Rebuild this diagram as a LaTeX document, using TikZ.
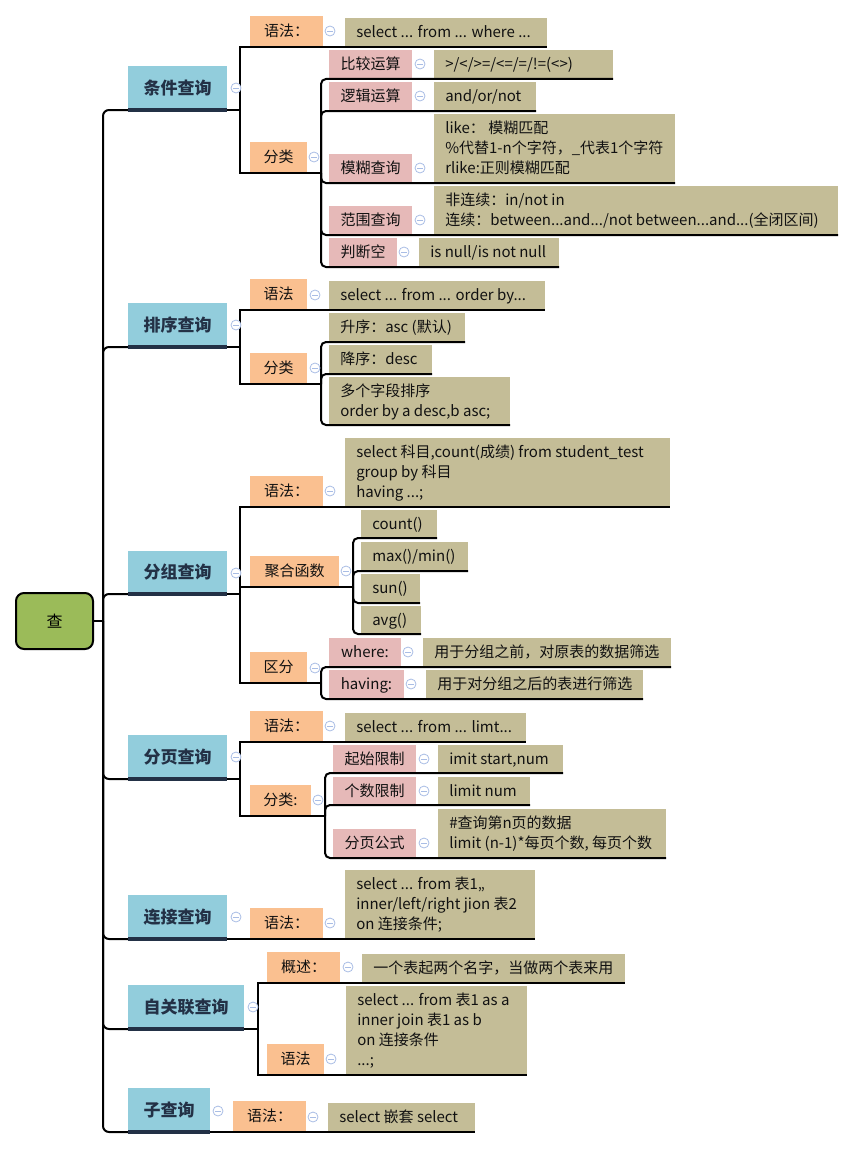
\documentclass[tikz,border=0pt]{standalone}
\usepackage{fontspec}
\setmainfont{Noto Sans CJK SC}
\usetikzlibrary{calc}
\definecolor{cRoot}{HTML}{9BBB59}
\definecolor{cMain}{HTML}{92CDDC}
\definecolor{cNavy}{HTML}{233146}
\definecolor{cOr}{HTML}{FAC090}
\definecolor{cPk}{HTML}{E6B9B8}
\definecolor{cTan}{HTML}{C4BD97}
\definecolor{cColl}{HTML}{A9BDE5}
\definecolor{cTxt}{HTML}{111111}
\tikzset{
  ln/.style={line width=1.5pt, draw=black},
  txt/.style={inner sep=0pt, font=\fontsize{11.25pt}{15pt}\selectfont, text=cTxt},
  mtxt/.style={inner sep=0pt, font=\fontsize{12.75pt}{15pt}\selectfont\bfseries, text=cNavy},
  orbox/.style={fill=cOr},
  pkbox/.style={fill=cPk},
  tnbox/.style={fill=cTan},
  mainbox/.style={fill=cMain},
  bar/.style={line width=3pt, draw=cNavy},
  rootbox/.style={draw=black, line width=1.5pt, fill=cRoot, rounded corners=6pt,
    minimum width=57.75pt, minimum height=42pt, inner sep=0pt,
    font=\fontsize{12pt}{14pt}\selectfont},
  coll/.style={circle, draw=cColl, fill=white, line width=0.6pt, minimum size=7.5pt, inner sep=0pt,
    path picture={\draw[cColl, line width=0.6pt] ([xshift=-2.2pt]path picture bounding box.center) -- ([xshift=2.2pt]path picture bounding box.center);}},
}
\newcommand\mkbox[6]{%
  \pgfmathsetmacro\mkW{(#5-#3)*0.75}%
  \pgfmathsetmacro\mkH{(#6-#4)*0.75}%
  \node[#1, minimum width=\mkW pt, minimum height=\mkH pt, anchor=south west, inner sep=0pt, outer sep=0pt] (#2) at (#3,#6) {};}
\newcommand\lab[7]{%
  \mkbox{#1}{#2}{#3}{#4}{#5}{#6}%
  \node[txt, anchor=base] (#2-t) at ([yshift=-4.1pt]#2.center) {#7};}
\newcommand\val[7]{%
  \mkbox{tnbox}{#1}{#2}{#3}{#4}{#5}%
  \pgfmathsetmacro\mkY{-4.1-(#6-1)*7.5}%
  \node[txt, anchor=base west, align=left] (#1-t) at ([xshift=8.25pt,yshift=\mkY pt]#1.west) {#7};}
\newcommand\mainb[6]{%
  \mkbox{mainbox}{#1}{#2}{#3}{#4}{#5}%
  \node[mtxt, anchor=base] (#1-t) at ([yshift=-4.6pt]#1.center) {#6};}
\newcommand\col[3]{\node[coll] (#1) at (#2,#3) {};}
\begin{document}
\begin{tikzpicture}[x=0.75pt,y=-0.75pt]
\useasboundingbox (0,0) rectangle (855,1149);
\node[rootbox] (root) at (54.5,621) {查};
% main topics
\mainb{M1}{128}{66}{227}{110}{条件查询}
\mainb{M2}{128}{303}{227}{347}{排序查询}
\mainb{M3}{128}{551}{227}{594}{分组查询}
\mainb{M4}{128}{735}{227}{779}{分页查询}
\mainb{M5}{128}{895}{227}{939}{连接查询}
\mainb{M6}{128}{985}{244}{1029}{自关联查询}
\mainb{M7}{128}{1088}{210}{1132}{子查询}
% section 1
\lab{orbox}{A1}{250}{16}{323}{47}{语法：}
\val{A1v}{345}{18}{547}{47}{1}{select ... from ... where ...}
\lab{orbox}{A2}{250}{142}{307}{173}{分类}
\lab{pkbox}{A21}{329}{50}{412}{79}{比较运算}
\val{A21v}{434}{50}{613}{79}{1}{>/</>=/<=/=/!=(<>)}
\lab{pkbox}{A22}{329}{82}{412}{111}{逻辑运算}
\val{A22v}{434}{82}{536}{111}{1}{and/or/not}
\lab{pkbox}{A23}{329}{154}{412}{183}{模糊查询}
\val{A23v}{434}{114}{675}{183}{3}{like： 模糊匹配\\\%代替1-n个字符，\_代表1个字符\\rlike:正则模糊匹配}
\lab{pkbox}{A24}{329}{206}{412}{235}{范围查询}
\val{A24v}{434}{186}{838}{235}{2}{非连续：in/not in\\连续：between...and.../not between...and...(全闭区间)}
\lab{pkbox}{A25}{329}{238}{397}{267}{判断空}
\val{A25v}{419}{238}{559}{267}{1}{is null/is not null}
% section 2
\lab{orbox}{B1}{250}{279}{307}{310}{语法}
\val{B1v}{329}{281}{545}{310}{1}{select ... from ... order by...}
\lab{orbox}{B2}{250}{353}{307}{384}{分类}
\val{B21}{329}{313}{465}{342}{1}{升序：asc (默认)}
\val{B22}{329}{345}{432}{374}{1}{降序：desc}
\val{B23}{329}{377}{510}{425}{2}{多个字段排序\\order by a desc,b asc;}
% section 3
\lab{orbox}{C1}{250}{476}{323}{507}{语法：}
\val{C1v}{345}{438}{670}{507}{3}{select 科目,count(成绩) from student\_test\\group by 科目\\having ...;}
\lab{orbox}{C2}{250}{556}{339}{587}{聚合函数}
\val{C21}{361}{510}{437}{538}{1}{count()}
\val{C22}{361}{542}{468}{571}{1}{max()/min()}
\val{C23}{361}{574}{420}{603}{1}{sun()}
\val{C24}{361}{606}{421}{634}{1}{avg()}
\lab{orbox}{C3}{250}{652}{307}{683}{区分}
\lab{pkbox}{C31}{329}{638}{401}{667}{where:}
\val{C31v}{423}{638}{671}{667}{1}{用于分组之前，对原表的数据筛选}
\lab{pkbox}{C32}{329}{670}{404}{699}{having:}
\val{C32v}{426}{670}{643}{699}{1}{用于对分组之后的表进行筛选}
% section 4
\lab{orbox}{D1}{250}{711}{323}{742}{语法：}
\val{D1v}{345}{713}{526}{742}{1}{select ... from ... limt...}
\lab{orbox}{D2}{250}{785}{311}{816}{分类:}
\lab{pkbox}{D21}{333}{745}{416}{773}{起始限制}
\val{D21v}{438}{745}{563}{773}{1}{imit start,num}
\lab{pkbox}{D22}{333}{777}{416}{805}{个数限制}
\val{D22v}{438}{777}{530}{805}{1}{limit num}
\lab{pkbox}{D23}{333}{829}{416}{858}{分页公式}
\val{D23v}{438}{809}{666}{858}{2}{\#查询第n页的数据\\limit (n-1)*每页个数, 每页个数}
% section 5
\lab{orbox}{E1}{250}{908}{323}{939}{语法：}
\val{E1v}{345}{870}{535}{939}{3}{select ... from 表1,,\\inner/left/right jion 表2\\on 连接条件;}
% section 6
\lab{orbox}{F1}{267}{952}{340}{983}{概述：}
\val{F1v}{362}{954}{625}{983}{1}{一个表起两个名字，当做两个表来用}
\lab{orbox}{F2}{267}{1044}{324}{1075}{语法}
\val{F2v}{346}{986}{527}{1075}{4}{select ... from 表1 as a\\inner join 表1 as b\\on 连接条件\\...;}
% section 7
\lab{orbox}{G1}{233}{1101}{306}{1132}{语法：}
\val{G1v}{328}{1103}{475}{1132}{1}{select 嵌套 select}
% trunk
\coordinate (tr) at (103,621);
\draw[ln] (root.east) -- (tr);
\foreach \m in {M1,M2,M3,M4,M5,M6,M7} \draw[ln, rounded corners=4.5pt] (tr) |- (\m.south west);
% section 1 connectors
\coordinate (j1) at (240,110);
\coordinate (j1b) at (321,173);
\draw[ln] (M1.south east) -- (j1);
\draw[ln] (j1) |- (A1v.south east);
\draw[ln] (j1) |- (j1b);
\foreach \c in {A21v,A22v,A23v,A24v,A25v} \draw[ln, rounded corners=3.75pt] (j1b) |- (\c.south east);
% section 2
\coordinate (j2) at (240,347);
\coordinate (j2b) at (321,384);
\draw[ln] (M2.south east) -- (j2);
\draw[ln] (j2) |- (B1v.south east);
\draw[ln] (j2) |- (j2b);
\foreach \c in {B21,B22,B23} \draw[ln, rounded corners=3.75pt] (j2b) |- (\c.south east);
% section 3
\coordinate (j3) at (240,594);
\coordinate (j3b) at (353,587);
\coordinate (j3c) at (321,683);
\draw[ln] (M3.south east) -- (j3);
\draw[ln] (j3) |- (C1v.south east);
\draw[ln] (j3) |- (j3b);
\draw[ln] (j3) |- (j3c);
\foreach \c in {C21,C22,C23,C24} \draw[ln, rounded corners=3.75pt] (j3b) |- (\c.south east);
\foreach \c in {C31v,C32v} \draw[ln, rounded corners=3.75pt] (j3c) |- (\c.south east);
% section 4
\coordinate (j4) at (240,779);
\coordinate (j4b) at (325,816);
\draw[ln] (M4.south east) -- (j4);
\draw[ln] (j4) |- (D1v.south east);
\draw[ln] (j4) |- (j4b);
\foreach \c in {D21v,D22v,D23v} \draw[ln, rounded corners=3.75pt] (j4b) |- (\c.south east);
% section 5
\draw[ln] (M5.south east) -- (E1v.south east);
% section 6
\coordinate (j6) at (258,1029);
\draw[ln] (M6.south east) -- (j6);
\draw[ln] (j6) |- (F1v.south east);
\draw[ln] (j6) |- (F2v.south east);
% section 7
\draw[ln] (M7.south east) -- (G1v.south east);
% main bars
\foreach \m in {M1,M2,M3,M4,M5,M6,M7} \draw[bar] (\m.south west) -- (\m.south east);
% collapse markers
\col{k1}{236}{88}\col{k2}{236}{325}\col{k3}{236}{573}\col{k4}{236}{757}
\col{k5}{236}{917}\col{k6}{253}{1007}\col{k7}{218}{1111}
\col{kA1}{330}{31}\col{kA2}{314}{157}\col{kA21}{420}{64}\col{kA22}{420}{96}
\col{kA23}{420}{168}\col{kA24}{420}{220}\col{kA25}{404}{252}
\col{kB1}{315}{295}\col{kB2}{315}{368}
\col{kC1}{330}{491}\col{kC2}{346}{571}\col{kC3}{315}{668}\col{kC31}{408}{652}\col{kC32}{411}{684}
\col{kD1}{330}{726}\col{kD2}{318}{800}\col{kD21}{424}{759}\col{kD22}{424}{791}\col{kD23}{424}{843}
\col{kE1}{330}{923}
\col{kF1}{348}{967}\col{kF2}{331}{1059}
\col{kG1}{313}{1117}
\end{tikzpicture}
\end{document}
